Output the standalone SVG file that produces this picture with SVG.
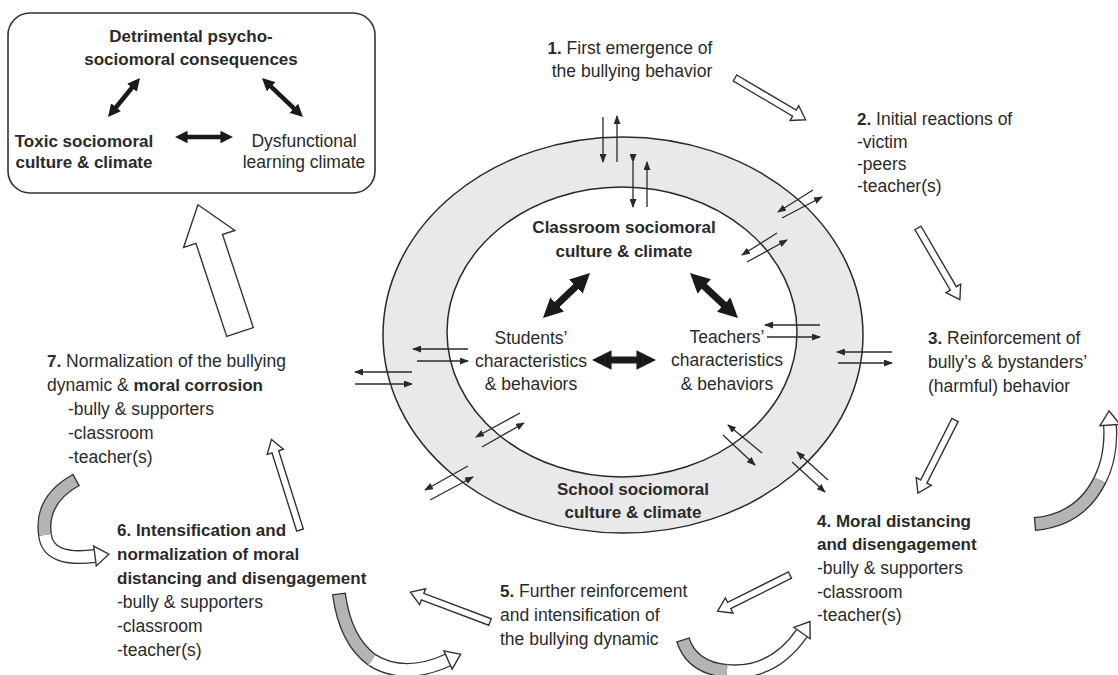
<svg xmlns="http://www.w3.org/2000/svg" width="1118" height="675" viewBox="0 0 1118 675">
<defs>
<style>
text{font-family:"Liberation Sans",Arial,sans-serif;font-size:17.5px;fill:#2a2a2a}
.b{font-weight:bold;font-size:17px}
.m{text-anchor:middle}
.thin{stroke:#2a2a2a;stroke-width:1.3;fill:none;marker-end:url(#sh)}
.thick{stroke:#1a1a1a;fill:none;marker-start:url(#bh);marker-end:url(#bh)}
.hol{fill:#fff;stroke:#333;stroke-width:1.4;stroke-linejoin:miter}
.cvo{fill:none;stroke:#333;stroke-width:14}
.cvg{fill:none;stroke:#b4b4b4;stroke-width:11.4}
.cvw{fill:none;stroke:#fff;stroke-width:11.4}
.cap{stroke:#333;stroke-width:1.3}
</style>
<marker id="sh" viewBox="0 0 9 7" markerWidth="9" markerHeight="7" refX="8" refY="3.5" orient="auto" markerUnits="userSpaceOnUse">
<path d="M0,0 L9,3.5 L0,7 z" fill="#2a2a2a"/>
</marker>
<marker id="bh" viewBox="0 0 10 10" markerWidth="2.8" markerHeight="2.8" refX="3" refY="5" orient="auto-start-reverse">
<path d="M0,0 L10,5 L0,10 z" fill="#1a1a1a"/>
</marker>
</defs>
<rect width="1118" height="675" fill="#fff"/>

<g id="consequences-box">
<rect x="8" y="13" width="367" height="180" rx="22" fill="#fff" stroke="#333" stroke-width="1.6"/>
<text class="b m" x="191" y="42">Detrimental psycho-</text>
<text class="b m" x="191" y="65">sociomoral consequences</text>
<text class="b m" x="84" y="147">Toxic sociomoral</text>
<text class="b m" x="84" y="168">culture &amp; climate</text>
<text class="m" x="304" y="147">Dysfunctional</text>
<text class="m" x="304" y="168">learning climate</text>
<line class="thick" stroke-width="4.5" x1="134.4" y1="84.8" x2="113.6" y2="110.2"/>
<line class="thick" stroke-width="4.5" x1="268.4" y1="84.1" x2="296.6" y2="110.9"/>
<line class="thick" stroke-width="4.5" x1="183.8" y1="137" x2="224.2" y2="137"/>
</g>

<g id="school-ring">
<ellipse cx="623" cy="335" rx="240" ry="198" fill="#e9e9e9" stroke="#2a2a2a" stroke-width="1.5"/>
<text class="b m" x="633" y="495">School sociomoral</text>
<text class="b m" x="633" y="518">culture &amp; climate</text>
</g>

<g id="classroom">
<ellipse cx="622" cy="332" rx="175" ry="145" fill="#fff" stroke="#2a2a2a" stroke-width="1.5"/>
<text class="b m" x="624" y="233">Classroom sociomoral</text>
<text class="b m" x="624" y="257">culture &amp; climate</text>
</g>

<g id="students">
<text class="m" x="531" y="344">Students’</text>
<text class="m" x="531" y="367">characteristics</text>
<text class="m" x="531" y="390">&amp; behaviors</text>
</g>

<g id="teachers">
<text class="m" x="727" y="343">Teachers’</text>
<text class="m" x="727" y="366">characteristics</text>
<text class="m" x="727" y="390">&amp; behaviors</text>
</g>

<g id="step1">
<text class="m" x="630" y="54"><tspan class="b">1.</tspan> First emergence of</text>
<text class="m" x="632" y="77">the bullying behavior</text>
</g>

<g id="step2">
<text x="857" y="125"><tspan class="b">2.</tspan> Initial reactions of</text>
<text x="857" y="148">-victim</text>
<text x="857" y="170">-peers</text>
<text x="857" y="192">-teacher(s)</text>
</g>

<g id="step3">
<text x="928" y="344"><tspan class="b">3.</tspan> Reinforcement of</text>
<text x="928" y="368">bully’s &amp; bystanders’</text>
<text x="928" y="392">(harmful) behavior</text>
</g>

<g id="step4">
<text class="b" x="817" y="527">4. Moral distancing</text>
<text class="b" x="817" y="550">and disengagement</text>
<text x="817" y="574">-bully &amp; supporters</text>
<text x="817" y="598">-classroom</text>
<text x="817" y="621">-teacher(s)</text>
</g>

<g id="step5">
<text x="500" y="597"><tspan class="b">5.</tspan> Further reinforcement</text>
<text x="500" y="621">and intensification of</text>
<text x="500" y="645">the bullying dynamic</text>
</g>

<g id="step6">
<text class="b" x="117" y="536">6. Intensification and</text>
<text class="b" x="117" y="560">normalization of moral</text>
<text class="b" x="117" y="584">distancing and disengagement</text>
<text x="117" y="608">-bully &amp; supporters</text>
<text x="117" y="632">-classroom</text>
<text x="117" y="656">-teacher(s)</text>
</g>

<g id="step7">
<text x="47" y="367"><tspan class="b">7.</tspan> Normalization of the bullying</text>
<text x="47" y="391">dynamic &amp; <tspan class="b">moral corrosion</tspan></text>
<text x="68" y="415">-bully &amp; supporters</text>
<text x="68" y="439">-classroom</text>
<text x="68" y="463">-teacher(s)</text>
</g>

<g id="connectors">
<line class="thick" stroke-width="7" x1="552.9" y1="308.5" x2="580.1" y2="282.5"/>
<line class="thick" stroke-width="7" x1="700" y1="282.4" x2="728" y2="308.6"/>
<line class="thick" stroke-width="7" x1="605.7" y1="360" x2="642.3" y2="360"/>

<line class="thin" x1="603" y1="117" x2="603" y2="162"/>
<line class="thin" x1="617" y1="162" x2="617" y2="116"/>
<line class="thin" x1="633" y1="162" x2="633" y2="207" style="marker-start:url(#sh)"/>
<line class="thin" x1="647" y1="207" x2="647" y2="162"/>
<line class="thin" x1="813" y1="190" x2="778" y2="212"/>
<line class="thin" x1="782" y1="218" x2="822" y2="197"/>
<line class="thin" x1="777" y1="233" x2="742" y2="255"/>
<line class="thin" x1="747" y1="262" x2="787" y2="240"/>
<line class="thin" x1="820" y1="325" x2="765" y2="325"/>
<line class="thin" x1="767" y1="337" x2="820" y2="337"/>
<line class="thin" x1="892" y1="352" x2="837" y2="352"/>
<line class="thin" x1="838" y1="363" x2="892" y2="363"/>
<line class="thin" x1="762" y1="453" x2="728" y2="425"/>
<line class="thin" x1="723" y1="435" x2="755" y2="465"/>
<line class="thin" x1="828" y1="480" x2="797" y2="452"/>
<line class="thin" x1="792" y1="462" x2="825" y2="492"/>
<line class="thin" x1="468" y1="349" x2="413" y2="349"/>
<line class="thin" x1="417" y1="361" x2="468" y2="361"/>
<line class="thin" x1="412" y1="372" x2="355" y2="372"/>
<line class="thin" x1="355" y1="384" x2="412" y2="384"/>
<line class="thin" x1="520" y1="413" x2="476" y2="437"/>
<line class="thin" x1="482" y1="447" x2="524" y2="423"/>
<line class="thin" x1="468" y1="466" x2="425" y2="490"/>
<line class="thin" x1="430" y1="500" x2="473" y2="477"/>

<polygon class="hol" transform="translate(735,78) rotate(30.6)" points="0,-3.5 69,-3.5 69,-8.5 82,0 69,8.5 69,3.5 0,3.5"/>
<polygon class="hol" transform="translate(918,228) rotate(59.7)" points="0,-3.5 70,-3.5 70,-8.5 83,0 70,8.5 70,3.5 0,3.5"/>
<polygon class="hol" transform="translate(955,420) rotate(116.9)" points="0,-3.5 69,-3.5 69,-8.5 82,0 69,8.5 69,3.5 0,3.5"/>
<polygon class="hol" transform="translate(790,575) rotate(153.4)" points="0,-3.5 68,-3.5 68,-8.5 81,0 68,8.5 68,3.5 0,3.5"/>
<polygon class="hol" transform="translate(490,622) rotate(200.6)" points="0,-3.5 72,-3.5 72,-8.5 85,0 72,8.5 72,3.5 0,3.5"/>
<polygon class="hol" transform="translate(300,530) rotate(252.5)" points="0,-3.5 82,-3.5 82,-8.5 95,0 82,8.5 82,3.5 0,3.5"/>
<polygon class="hol" transform="translate(240,332) rotate(251.7)" points="0,-14 98,-14 98,-27 134,0 98,27 98,14 0,14"/>

<g id="curve-7-6">
<path class="cvo" d="M76,480 Q40,500 45,535"/>
<path class="cvg" d="M76,480 Q40,500 45,535"/>
<path class="cvo" d="M45,535 Q48,562 95,556"/>
<path class="cvw" d="M45,535 Q48,562 95,556"/>
<polygon class="hol" points="93.7,546.1 108.9,554.2 96.3,565.9"/>
<line class="cap" x1="79.4" y1="486.1" x2="72.6" y2="473.9"/>
</g>
<g id="curve-6-5">
<path class="cvo" d="M339,594 Q345,640 372,660"/>
<path class="cvg" d="M339,594 Q345,640 372,660"/>
<path class="cvo" d="M372,660 Q404,680 448,660"/>
<path class="cvw" d="M372,660 Q404,680 448,660"/>
<polygon class="hol" points="443.9,650.9 460.7,654.2 452.1,669.1"/>
<line class="cap" x1="345.9" y1="593.1" x2="332.1" y2="594.9"/>
</g>
<g id="curve-5-4">
<path class="cvo" d="M683,640 Q692,668 727,671"/>
<path class="cvg" d="M683,640 Q692,668 727,671"/>
<path class="cvo" d="M727,671 Q773,675 802,633"/>
<path class="cvw" d="M727,671 Q773,675 802,633"/>
<polygon class="hol" points="793.8,627.3 809.9,621.5 810.2,638.7"/>
<line class="cap" x1="689.7" y1="637.9" x2="676.3" y2="642.1"/>
</g>
<g id="curve-4-3">
<path class="cvo" d="M1035,524 Q1080,520 1100,480"/>
<path class="cvg" d="M1035,524 Q1080,520 1100,480"/>
<path class="cvo" d="M1100,480 Q1112,456 1110,425"/>
<path class="cvw" d="M1100,480 Q1112,456 1110,425"/>
<polygon class="hol" points="1100,425.6 1109.1,411 1120,424.4"/>
<line class="cap" x1="1035.6" y1="531" x2="1034.4" y2="517"/>
</g>
</g>
</svg>
